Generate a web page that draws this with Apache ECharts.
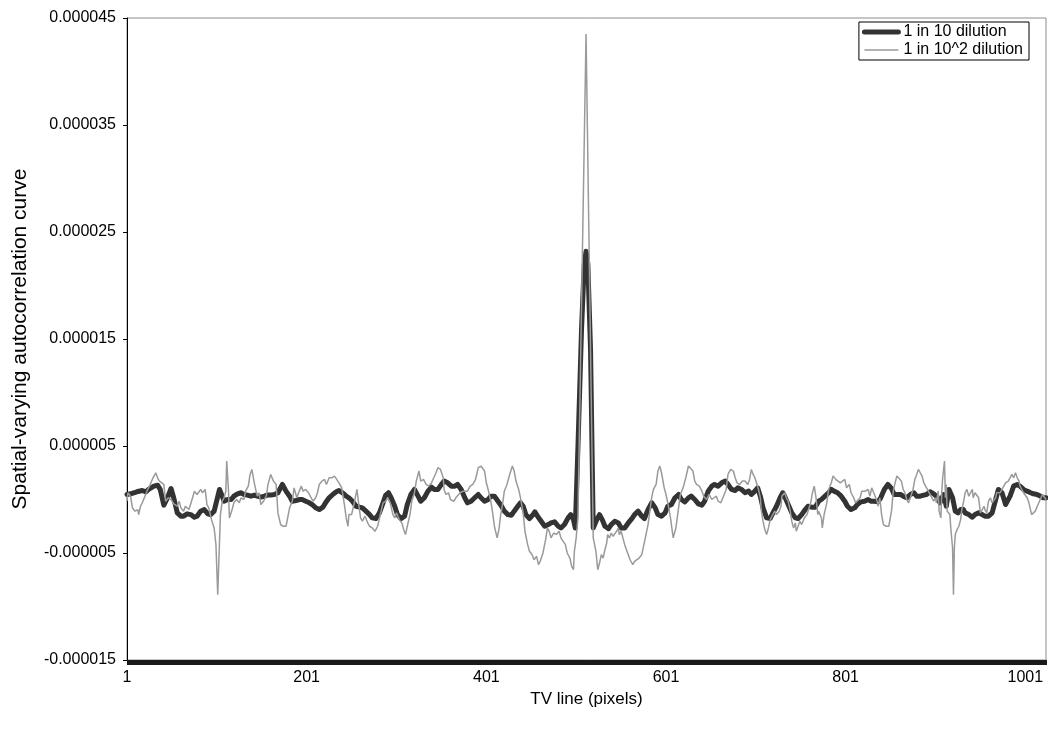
<!DOCTYPE html>
<html>
<head>
<meta charset="utf-8">
<script src="https://cdn.jsdelivr.net/npm/echarts@6/dist/echarts.min.js"></script>
<style>
html,body{margin:0;padding:0;background:#fff;}
#chart{width:1048px;height:729px;}
</style>
</head>
<body>
<div id="chart"></div>
<script>
// TV line categories 1..1024
const tvLines = Array.from({length: 1024}, (_, i) => String(i + 1));
const yTicks = [-0.000015, -0.000005, 0.000005, 0.000015, 0.000025, 0.000035, 0.000045];

// Series "1 in 10 dilution": TV line positions and values (x 1e-6)
const darkX = [1,5,12,18,22,25,31,35,38,42,46,50,53,57,61,64,68,72,76,79,83,87,91,94,98,104,107,109,113,117,120,124,128,131,135,139,143,146,150,154,157,161,165,169,
174,178,182,185,189,193,196,200,204,208,211,215,219,222,226,230,234,237,241,245,248,252,256,260,263,267,271,274,278,282,286,289,292,295,299,302,306,310,313,317,321,325,328,332,336,340,
343,347,351,354,358,362,366,369,373,377,380,384,388,392,395,399,403,406,410,414,418,421,425,429,432,436,439,442,445,449,453,455,458,462,466,470,473,477,481,484,488,492,495,498,500,
503,507,510,512,514,517,
520,522,524,527,530,533,537,540,544,548,551,555,559,563,566,570,574,577,581,585,589,592,596,600,603,607,611,615,618,622,626,629,633,637,641,644,648,652,655,659,663,667,670,674,678,681,685,
689,693,696,700,703,706,709,713,717,720,724,728,731,733,737,741,745,748,752,756,759,763,767,771,774,778,782,785,788,792,796,800,803,807,811,814,818,822,826,829,833,837,840,844,848,852,855,859,
862,865,869,873,877,880,884,888,891,895,899,903,906,908,910,913,916,918,920,923,926,929,932,934,938,942,945,949,953,956,960,964,968,971,975,979,981,984,988,992,995,999,1003,1007,1010,1014,1018,1021,1024];
const darkV = [0.47,0.53,0.72,0.84,0.72,0.94,1.25,1.34,0.94,-0.53,0.16,1.03,0.16,-1.25,-1.56,-1.56,-1.34,-1.41,-1.66,-1.56,-1.09,-0.94,-1.34,-1.41,-1.09,0.94,0.31,-0.16,0.0,0.0,0.31,0.53,0.63,0.47,0.41,0.31,0.41,0.31,0.22,0.31,0.41,0.41,0.47,0.63,
1.41,0.78,0.31,-0.16,-0.09,0.0,0.0,-0.16,-0.31,-0.53,-0.78,-0.94,-0.72,-0.31,0.16,0.47,0.72,0.84,0.63,0.31,0.16,-0.16,-0.63,-0.72,-0.78,-1.09,-1.41,-1.72,-1.78,-1.25,-0.31,0.41,0.63,0.16,-0.63,-1.41,-1.78,-1.56,-0.47,0.47,0.94,0.31,-0.16,0.16,0.78,1.16,
0.94,0.94,1.41,1.72,1.56,1.25,1.25,1.41,0.94,0.16,-0.31,-0.16,0.16,0.47,0.16,-0.16,0.0,0.31,0.31,-0.16,-0.63,-1.09,-1.41,-1.47,-1.09,-0.63,-0.31,-0.63,-1.41,-1.78,-1.41,-1.16,-1.56,-2.03,-2.50,-2.34,-2.19,-2.09,-2.50,-2.66,-2.34,-1.72,-1.41,-1.88,-2.66,
5.0,16.0,22.0,23.2,22.0,14.0,
-2.66,-2.50,-1.88,-1.41,-1.88,-2.50,-2.72,-2.34,-2.03,-2.19,-2.66,-2.66,-2.19,-1.78,-1.41,-1.09,-1.56,-1.78,-0.94,-0.31,-0.78,-1.41,-1.56,-1.25,-0.63,-0.47,0.16,0.47,0.0,-0.22,0.16,0.31,0.0,-0.41,-0.53,-0.16,0.78,1.25,1.41,1.25,1.56,1.72,1.41,0.94,0.84,1.09,0.94,
0.63,0.78,0.47,0.78,1.09,0.31,-0.78,-1.72,-1.78,-1.25,-0.63,0.16,0.63,0.31,-0.47,-1.25,-1.72,-1.78,-1.41,-0.94,-0.63,-0.72,-0.72,-0.16,0.0,0.31,0.63,0.94,0.78,0.63,0.31,-0.16,-0.63,-0.94,-0.78,-0.47,-0.22,-0.16,0.0,-0.16,-0.16,-0.22,0.16,0.94,1.41,1.03,0.47,0.47,
0.47,0.31,0.16,0.47,0.63,0.31,0.31,0.41,0.47,0.72,0.53,0.22,-0.31,-0.16,0.47,-0.63,0.94,1.09,0.16,-1.09,-1.25,-0.94,-0.94,-1.25,-1.41,-1.66,-1.41,-1.25,-1.41,-1.56,-1.56,-1.25,0.0,0.94,0.63,-0.47,-0.63,0.31,1.25,1.41,1.25,0.94,0.78,0.63,0.53,0.47,0.31,0.16,0.16];

// Series "1 in 10^2 dilution": TV line positions and values (x 1e-6)
const greyX = [1,2,5,7,10,13,14,16,18,21,24,26,27,30,33,35,37,39,42,44,47,50,53,57,59,61,64,66,70,74,76,79,81,83,85,88,90,92,95,98,100,102,104,105,107,109,111,112,114,115,117,118,120,123,126,128,131,133,136,138,140,143,146,148,150,153,156,158,161,164,167,169,
172,175,178,180,182,185,187,190,192,195,197,200,203,206,208,211,213,215,218,221,223,226,229,232,234,237,240,243,245,247,248,251,254,257,259,261,263,266,269,271,274,277,280,283,286,289,291,294,297,299,301,304,307,309,311,313,316,318,321,323,326,328,331,334,337,340,342,
345,347,350,353,354,356,359,361,363,365,367,369,372,375,377,380,383,386,389,392,395,397,399,401,403,406,408,410,413,415,417,419,421,424,427,430,432,434,437,439,442,444,447,449,452,454,457,459,461,464,467,469,471,473,476,479,482,484,486,489,491,494,496,498,499,501,503,
512,
520,523,525,527,529,531,533,535,536,538,540,542,544,546,548,549,551,553,555,557,559,561,564,566,568,571,574,576,578,581,583,585,587,590,592,594,596,599,601,603,606,609,612,615,617,620,623,626,628,631,633,635,638,641,643,646,649,652,654,657,659,662,665,668,670,673,676,678,680,683,686,
689,692,694,696,698,700,702,704,706,707,709,711,713,715,717,719,722,724,727,729,730,733,735,737,739,741,743,745,746,748,750,752,755,758,760,762,764,766,768,770,771,774,775,777,780,782,785,787,790,792,795,797,800,802,805,807,810,812,814,817,819,821,823,826,828,830,833,836,837,839,841,843,846,849,850,852,854,856,858,860,
863,865,867,869,871,873,875,876,878,880,882,884,886,888,889,891,893,895,897,899,901,902,904,905,907,908,909,911,912,913,914,917,918,920,921,922,923,925,927,929,930,932,934,936,938,940,942,943,945,947,949,951,953,955,956,958,960,962,964,966,968,969,971,973,975,977,979,981,982,984,986,988,990,992,994,995,997,999,1001,1003,1005,1007,1008,1010,1012,1014,1016,1018,1020,1021,1024];
const greyV = [-0.16,0.63,0.31,-0.78,-1.09,-0.94,-1.41,-0.63,-0.31,0.31,0.94,1.25,1.41,2.03,2.50,2.03,1.72,1.88,1.41,-0.16,0.16,0.0,-0.41,-0.63,-0.16,-0.78,-1.09,-0.63,-0.94,0.16,0.78,0.47,0.31,0.94,0.63,0.94,-0.47,-0.78,-1.88,-2.66,-4.22,-8.9,-3.91,-1.41,-0.16,0.16,0.78,3.59,0.78,-1.72,-1.88,-0.94,-0.31,0.0,-0.31,0.16,0.0,0.78,1.25,2.34,2.81,1.41,0.31,0.63,-0.47,-0.16,0.31,1.41,2.34,1.72,1.41,-1.25,
-2.34,-2.50,-2.50,-2.34,-0.78,-0.16,1.09,0.16,0.63,1.25,0.78,0.94,0.63,0.16,-0.16,0.16,0.63,1.41,1.72,1.88,1.41,2.03,2.03,2.19,2.19,1.56,1.09,-0.47,-1.72,-2.50,-1.41,-1.41,-0.31,0.94,-0.47,-1.72,-2.03,-1.56,-2.19,-2.50,-2.66,-2.97,-2.50,-1.41,-0.31,-0.16,0.16,-0.31,-1.41,-1.72,-1.25,-1.88,-2.19,-2.81,-3.28,-2.50,-1.41,-0.16,0.63,1.72,2.66,1.72,1.88,1.41,1.25,1.56,1.41,
2.50,2.97,2.81,2.03,0.94,0.47,0.63,0.0,0.16,-0.16,0.16,0.0,0.63,0.78,0.63,0.78,1.25,1.41,1.88,2.97,3.13,3.13,2.66,1.56,0.94,-0.16,-1.25,-2.50,-3.59,-2.81,-1.41,-0.47,0.78,1.41,2.34,3.13,2.66,1.72,0.94,0.16,-1.25,-2.97,-4.22,-4.84,-5.16,-5.63,-5.31,-6.09,-5.78,-5.0,-3.75,-2.66,-2.97,-3.59,-3.13,-3.28,-2.97,-3.59,-3.59,-4.22,-5.0,-5.47,-6.25,-6.56,-4.84,-3.59,-1.72,
43.5,
-3.59,-4.84,-6.56,-5.94,-5.16,-5.47,-4.69,-4.06,-3.28,-3.59,-3.13,-3.44,-3.28,-2.97,-2.66,-3.28,-2.97,-3.59,-4.22,-4.69,-5.16,-5.63,-6.09,-5.78,-5.63,-5.47,-5.16,-5.0,-3.59,-2.34,-1.09,0.16,0.94,1.41,2.66,3.13,2.50,1.09,0.47,-0.31,-1.72,-3.59,-2.66,-0.78,0.47,1.09,2.03,3.13,2.97,2.66,1.72,1.41,1.25,0.78,0.31,0.0,0.47,0.0,0.16,0.31,-0.16,-0.31,0.31,0.94,2.34,2.81,2.66,2.03,1.56,1.41,1.72,
1.72,1.41,1.88,2.81,2.34,2.03,1.88,0.94,0.16,-0.94,-2.03,-2.81,-3.28,-2.66,-1.88,-1.56,-1.09,-1.41,-1.09,-0.63,0.31,0.63,0.16,-0.16,-0.94,-2.03,-2.66,-2.19,-2.97,-2.50,-2.03,-2.34,-1.72,-1.41,-1.25,-0.31,0.63,1.25,0.16,-1.41,-1.09,-1.72,-2.66,-1.41,-0.31,0.94,1.56,2.19,1.88,2.03,1.56,1.41,1.88,1.09,1.41,0.63,0.16,-0.31,-0.16,0.16,0.78,0.94,0.78,0.94,0.31,1.09,0.47,-0.16,-0.63,0.16,-1.41,-2.34,-2.50,-2.50,-2.34,-1.09,0.78,1.56,2.19,2.34,
1.72,0.94,0.63,0.0,-0.31,0.16,0.31,0.94,1.88,2.34,2.81,2.50,2.19,1.56,1.41,1.09,0.78,0.47,0.16,-0.16,0.16,-0.31,0.78,-1.09,-1.72,0.78,2.03,3.59,0.16,1.41,-1.09,-1.41,-2.66,-4.53,-8.9,-4.53,-3.28,-2.81,-2.50,-1.88,-1.09,-0.31,0.63,0.94,0.31,0.47,0.94,0.16,0.63,0.78,0.16,-1.25,-1.09,-0.63,-0.94,-1.25,-0.16,0.16,-0.31,-0.31,0.16,0.63,0.47,0.63,0.94,1.25,1.56,1.72,1.72,2.03,2.34,2.03,2.50,2.03,1.72,1.25,0.94,0.63,0.47,0.16,-0.31,-0.47,-1.41,-1.25,-1.09,-1.25,-0.31,-0.16,0.47,0.63,0.0];

const toPairs = (xs, vs) => xs.map((x, i) => [String(x), vs[i] * 1e-6]);

const chart = echarts.init(document.getElementById('chart'), null, {renderer: 'canvas'});
const FONT = 'Liberation Sans, Arial, sans-serif';
chart.setOption({
  animation: false,
  backgroundColor: '#ffffff',
  textStyle: {fontFamily: FONT},
  grid: {left: 127, right: 2, top: 18, bottom: 69, show: true, borderColor: '#8c8c8c', borderWidth: 1,
         backgroundColor: 'transparent', containLabel: false, outerBoundsMode: 'none'},
  legend: {
    orient: 'vertical', right: 19, top: 22,
    backgroundColor: '#ffffff', borderColor: '#000000', borderWidth: 1, borderRadius: 0,
    padding: [2, 6, 2, 3], itemGap: 2, itemWidth: 34, itemHeight: 14,
    itemStyle: {opacity: 0},
    textStyle: {fontFamily: FONT, fontSize: 16, color: '#000'},
    data: [
      {name: '1 in 10 dilution', lineStyle: {width: 5, color: '#333333'}},
      {name: '1 in 10^2 dilution', lineStyle: {width: 1.5, color: '#9a9a9a'}}
    ]
  },
  xAxis: {
    type: 'category', data: tvLines, boundaryGap: false,
    name: 'TV line (pixels)', nameLocation: 'middle', nameGap: 27,
    nameTextStyle: {fontFamily: FONT, fontSize: 17, color: '#000'},
    axisLine: {onZero: false, lineStyle: {color: '#000', width: 1}},
    axisTick: {show: true, interval: 0, length: 5, lineStyle: {color: '#1a1a1a', width: 1}},
    axisLabel: {interval: 199, color: '#000', fontSize: 16, fontFamily: FONT, margin: 10},
    splitLine: {show: false}
  },
  yAxis: {
    type: 'value', min: -0.000015, max: 0.000045,
    name: 'Spatial-varying autocorrelation curve', nameLocation: 'middle', nameGap: 96,
    nameTextStyle: {fontFamily: FONT, fontSize: 21, color: '#000'},
    axisLine: {show: true, lineStyle: {color: '#000', width: 1}},
    axisTick: {show: true, length: 4, customValues: yTicks, lineStyle: {color: '#000'}},
    axisLabel: {customValues: yTicks, color: '#000', fontSize: 16, fontFamily: FONT, margin: 11,
      formatter: v => v.toFixed(6)},
    splitLine: {show: false}
  },
  series: [
    {name: '1 in 10 dilution', type: 'line', symbol: 'none', showSymbol: false,
     data: toPairs(darkX, darkV),
     lineStyle: {color: '#333333', width: 5, join: 'round', cap: 'round'}, itemStyle: {color: '#333333'}},
    {name: '1 in 10^2 dilution', type: 'line', symbol: 'none', showSymbol: false,
     data: toPairs(greyX, greyV),
     lineStyle: {color: '#9a9a9a', width: 1.5}, itemStyle: {color: '#9a9a9a'}}
  ]
});
</script>
</body>
</html>
